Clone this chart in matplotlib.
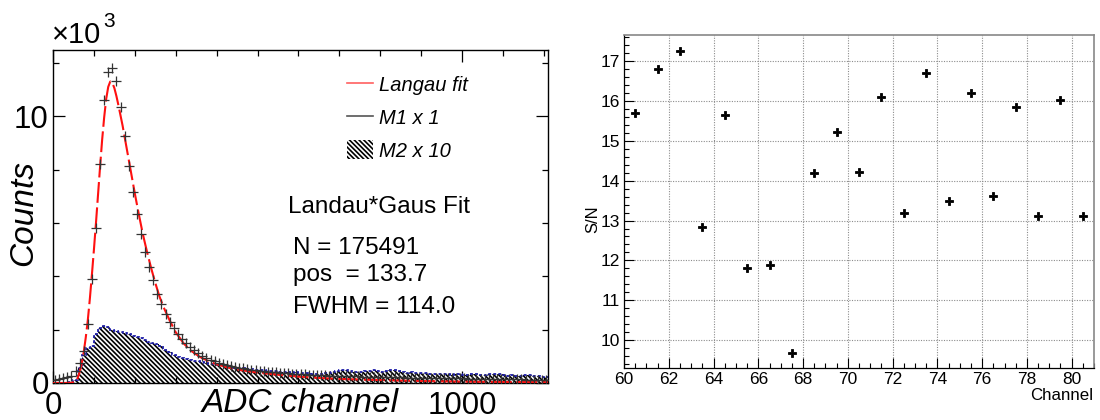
import matplotlib
matplotlib.use("Agg")
import matplotlib.pyplot as plt
import numpy as np
from matplotlib.lines import Line2D
from matplotlib.patches import Patch
from matplotlib.ticker import FixedLocator, MultipleLocator

plt.rcParams['font.family'] = ['Liberation Sans', 'DejaVu Sans']
plt.rcParams['hatch.linewidth'] = 1.2
plt.rcParams['hatch.color'] = 'black'

# ---------------- data: left panel (counts in units of 10^3) ----------------
adc_edges = np.arange(0, 1211, 10)          # 121 bins of 10 ADC channels

m1_counts_k = [0.12, 0.15, 0.20, 0.22, 0.27, 0.45, 0.75, 1.20, 2.20, 3.90,
               5.80, 8.20, 10.60, 11.65, 11.80, 11.30, 10.35, 9.25, 8.15, 7.15,
               6.35, 5.60, 4.90, 4.35, 3.85, 3.35, 2.95, 2.60, 2.30, 2.05,
               1.85, 1.65, 1.50, 1.35, 1.22, 1.12, 1.02, 0.95, 0.88, 0.82,
               0.76, 0.72, 0.68, 0.64, 0.60, 0.57, 0.55, 0.52, 0.50, 0.48,
               0.46, 0.44, 0.42, 0.41, 0.40, 0.38, 0.37, 0.36, 0.35, 0.34,
               0.33, 0.32, 0.31, 0.31, 0.30, 0.29, 0.29, 0.28, 0.28, 0.27,
               0.27, 0.26, 0.26, 0.25, 0.25, 0.24, 0.24, 0.24, 0.23, 0.23,
               0.22, 0.22, 0.22, 0.21, 0.21, 0.21, 0.20, 0.20, 0.20, 0.20,
               0.19, 0.19, 0.19, 0.18, 0.18, 0.18, 0.18, 0.17, 0.17, 0.17,
               0.17, 0.16, 0.16, 0.16, 0.16, 0.15, 0.15, 0.15, 0.15, 0.15,
               0.14, 0.14, 0.14, 0.14, 0.14, 0.13, 0.13, 0.13, 0.13, 0.13, 0.13]

m2_x10_counts_k = [0.00, 0.00, 0.00, 0.02, 0.05, 0.10,
                   0.55, 1.05, 1.30, 1.40, 1.85, 2.05, 2.15, 2.10, 2.00, 1.95,
                   1.90, 1.88, 1.84, 1.78, 1.72, 1.68, 1.60, 1.55, 1.50, 1.45,
                   1.38, 1.25, 1.15, 1.05, 0.98, 0.93, 0.90, 0.86, 0.84, 0.84,
                   0.80, 0.76, 0.72, 0.70, 0.68, 0.66, 0.62, 0.60, 0.58, 0.57,
                   0.56, 0.54, 0.52, 0.50, 0.48, 0.47, 0.46, 0.45, 0.44, 0.42,
                   0.41, 0.40, 0.39, 0.40, 0.38, 0.37, 0.36, 0.35, 0.35, 0.34,
                   0.36, 0.38, 0.40, 0.44, 0.48, 0.50, 0.46, 0.42, 0.40, 0.41,
                   0.44, 0.46, 0.47, 0.44, 0.42, 0.46, 0.49, 0.50, 0.45, 0.41,
                   0.39, 0.40, 0.38, 0.37, 0.36, 0.37, 0.35, 0.34, 0.33, 0.34,
                   0.32, 0.31, 0.33, 0.32, 0.31, 0.30, 0.32, 0.33, 0.31, 0.30,
                   0.32, 0.34, 0.35, 0.33, 0.30, 0.28, 0.29, 0.27, 0.28, 0.30,
                   0.29, 0.26, 0.25, 0.24, 0.24]

fit_adc = [0, 30, 45, 55, 60, 65, 70, 75, 80, 85, 90, 95, 100, 105, 110, 115,
           120, 125, 130, 135, 140, 145, 150, 155, 160, 170, 180, 190, 200, 210,
           220, 230, 240, 250, 260, 270, 285, 300, 320, 340, 360, 380, 400, 430,
           460, 500, 550, 600, 650, 700, 750, 800, 850, 900, 950, 1000, 1050,
           1100, 1150, 1210]
fit_counts_k = [0.0, 0.0, 0.01, 0.06, 0.18, 0.40, 0.72, 1.15, 1.70, 2.35, 3.15,
                4.05, 5.00, 6.00, 7.05, 8.10, 9.10, 9.95, 10.65, 11.10, 11.30,
                11.25, 11.05, 10.75, 10.40, 9.65, 8.80, 7.95, 7.10, 6.30, 5.55,
                4.90, 4.30, 3.75, 3.25, 2.85, 2.35, 1.90, 1.47, 1.18, 0.97, 0.82,
                0.70, 0.57, 0.48, 0.39, 0.31, 0.24, 0.19, 0.15, 0.13, 0.11, 0.09,
                0.075, 0.062, 0.052, 0.045, 0.04, 0.035, 0.03]

legend_labels = ['Langau fit', 'M1 x 1', 'M2 x 10']
fit_title = 'Landau*Gaus Fit'
fit_entries = 175491
fit_pos = 133.7
fit_fwhm = 114.0

# ---------------- data: right panel ----------------
channels = [60.5, 61.5, 62.5, 63.5, 64.5, 65.5, 66.5, 67.5, 68.5, 69.5, 70.5,
            71.5, 72.5, 73.5, 74.5, 75.5, 76.5, 77.5, 78.5, 79.5, 80.5]
signal_to_noise = [15.71, 16.81, 17.27, 12.85, 15.65, 11.82, 11.89, 9.68,
                   14.19, 15.23, 14.22, 16.11, 13.19, 16.71, 13.49, 16.20,
                   13.62, 15.85, 13.12, 16.03, 13.11]

# ---------------- figure ----------------
fig = plt.figure(figsize=(11, 4.2), dpi=100)

# ===== left panel =====
ax1 = fig.add_axes([0.0482, 0.0881, 0.4500, 0.7929])
centers = 0.5 * (adc_edges[:-1] + adc_edges[1:])
HATCH = '\\' * 7

ax1.stairs(m2_x10_counts_k, adc_edges, fill=True, facecolor='white',
           edgecolor='black', hatch=HATCH, linewidth=0, zorder=1)
ax1.stairs(m2_x10_counts_k, adc_edges, baseline=None, color='#1c1ca8',
           linestyle=(0, (1.6, 1.2)), linewidth=1.3, zorder=2)
fit_line, = ax1.plot(fit_adc, fit_counts_k, color='#ff1010', lw=1.5, zorder=3)
fit_line.set_dashes((10, 2.2))
ax1.plot(centers, m1_counts_k, ls='none', marker='+', ms=7, mew=0.9,
         color='#333333', zorder=4)

ax1.set_xlim(0, 1210)
ax1.set_ylim(0, 12.48)
ax1.xaxis.set_major_locator(FixedLocator([0, 1000]))
ax1.xaxis.set_minor_locator(MultipleLocator(100))
ax1.yaxis.set_major_locator(FixedLocator([0, 10]))
ax1.yaxis.set_minor_locator(FixedLocator([2, 4, 6, 8, 12]))
ax1.set_xticklabels(['0', '1000'])
ax1.set_yticklabels(['0', '10'])
ax1.tick_params(which='both', direction='in', top=True, right=True,
                labelsize=22.5, width=0.9, color='black')
ax1.tick_params(which='major', length=8.6)
ax1.tick_params(which='minor', length=4.3)
ax1.tick_params(axis='y', pad=3)
ax1.tick_params(axis='x', pad=6)
for s in ax1.spines.values():
    s.set_linewidth(1.0)

handles = [Line2D([], [], color='#ff6060', lw=1.2),
           Line2D([], [], color='#555555', lw=1.2),
           Patch(facecolor='white', edgecolor='black', hatch=HATCH, linewidth=0)]
ax1.legend(handles, legend_labels, loc='upper left', bbox_to_anchor=(0.594, 0.925),
           frameon=False, prop={'style': 'italic', 'size': 14.5},
           handlelength=1.3, handleheight=1.1, handletextpad=0.3,
           labelspacing=0.6, borderpad=0, borderaxespad=0)

ax1.text(0.474, 0.529, fit_title, transform=ax1.transAxes, va='center', ha='left', fontsize=17.5)
ax1.text(0.485, 0.405, f'N = {fit_entries}', transform=ax1.transAxes, va='center', ha='left', fontsize=17.5)
ax1.text(0.485, 0.324, f'pos  = {fit_pos:.1f}', transform=ax1.transAxes, va='center', ha='left', fontsize=17.5)
ax1.text(0.485, 0.229, f'FWHM = {fit_fwhm:.1f}', transform=ax1.transAxes, va='center', ha='left', fontsize=17.5)

fig.text(52 / 1100, 0.897, '×10', fontsize=21, ha='left', va='baseline')
fig.text(103 / 1100, 0.935, '3', fontsize=15, ha='left', va='baseline')
fig.text(23.5 / 1100, 0.4917, 'Counts', rotation=90, style='italic', fontsize=24,
         ha='center', va='center')
fig.text(300 / 1100, 0.018, 'ADC channel', style='italic', fontsize=24,
         ha='center', va='baseline')

# ===== right panel =====
ax2 = fig.add_axes([0.5673, 0.1231, 0.4273, 0.7936])
ax2.plot(channels, signal_to_noise, ls='none', marker='P', ms=5.6, mew=0.6,
         mec='black', color='black', zorder=3)
ax2.set_xlim(60, 81)
ax2.set_ylim(9.29, 17.66)
ax2.xaxis.set_major_locator(MultipleLocator(2))
ax2.xaxis.set_minor_locator(MultipleLocator(0.5))
ax2.yaxis.set_major_locator(MultipleLocator(1))
ax2.yaxis.set_minor_locator(MultipleLocator(0.2))
ax2.grid(which='major', color='#8c8c8c', linestyle=(0, (1, 1.3)), linewidth=0.8)
ax2.set_axisbelow(True)
ax2.tick_params(which='both', direction='in', top=False, right=False,
                labelsize=12.5, width=0.8)
ax2.tick_params(which='major', length=7)
ax2.tick_params(which='minor', length=3.5)
ax2.tick_params(axis='y', pad=3)
ax2.tick_params(axis='x', pad=2.5)
for side in ('top', 'right'):
    ax2.spines[side].set_color('#888888')
    ax2.spines[side].set_linewidth(1.2)
for side in ('left', 'bottom'):
    ax2.spines[side].set_color('black')
    ax2.spines[side].set_linewidth(0.9)

fig.text(592.5 / 1100, (420 - 219) / 420, 'S/N', rotation=90, fontsize=12,
         ha='center', va='center')
fig.text(1093 / 1100, 0.058, 'Channel', fontsize=12.2, ha='right', va='center')

fig.savefig('out.png', dpi=100)
